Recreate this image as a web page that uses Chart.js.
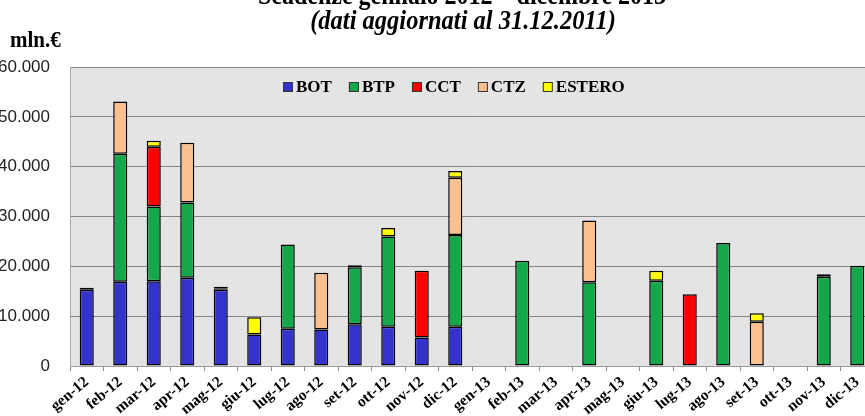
<!DOCTYPE html>
<html>
<head>
<meta charset="utf-8">
<script src="https://cdn.jsdelivr.net/npm/chart.js@4"></script>
<style>
  html, body { margin: 0; padding: 0; background: #fff; overflow: hidden; }
  #wrap { width: 865px; height: 416px; overflow: hidden; }
</style>
</head>
<body>
<div id="wrap"><canvas id="scadenzeChart" width="880" height="416"></canvas></div>
<script>
    // dati (mln. euro)
    const mesi = ['gen-12', 'feb-12', 'mar-12', 'apr-12', 'mag-12', 'giu-12', 'lug-12', 'ago-12', 'set-12', 'ott-12', 'nov-12', 'dic-12',
                  'gen-13', 'feb-13', 'mar-13', 'apr-13', 'mag-13', 'giu-13', 'lug-13', 'ago-13', 'set-13', 'ott-13', 'nov-13', 'dic-13'];
    const bot    = [15300, 16900, 17000, 17700, 15300, 6300, 7500, 7300, 8400, 7900, 5700, 7900, null, null, null, null, null, null, null, null, null, null, null, null];
    const btp    = [400, 25700, 15000, 15100, 200, null, 16900, null, 11400, 18100, null, 18400, null, 21100, null, 16800, null, 17100, null, 24700, null, null, 17900, 20100];
    const cct    = [null, null, 12000, null, null, null, null, null, null, null, 13400, null, null, null, null, null, null, null, 14400, null, null, null, null, null];
    const ctz    = [null, 10500, null, 12000, null, null, null, 11400, null, null, null, 11500, null, null, null, 12400, null, null, null, null, 8900, null, null, null];
    const estero = [null, null, 1200, null, 400, 3500, null, null, 400, 1700, null, 1350, null, null, null, null, null, 2000, null, null, 1700, null, 500, null];
    const yTicks = [0, 10000, 20000, 30000, 40000, 50000, 60000];

    const fmt = v => String(v).replace(/\B(?=(\d{3})+(?!\d))/g, '.');

    // testo un po' "allungato" in verticale come nell'originale
    function testo(c, t, x, y, font, sy) {
        c.save();
        c.font = font;
        c.translate(x, y);
        c.scale(1, sy);
        c.fillText(t, 0, 0);
        c.restore();
    }

    // sfondo area grafico, titolo e legenda
    const decor = {
        id: 'decor',
        beforeDraw(chart) {
            const a = chart.chartArea, c = chart.ctx;
            c.save();
            c.fillStyle = '#e4e4e4';
            c.fillRect(a.left, a.top, a.right - a.left, a.bottom - a.top);
            c.strokeStyle = '#cfcfcf';
            c.lineWidth = 1;
            c.beginPath();
            c.moveTo(a.left, a.top + 0.5);
            c.lineTo(a.right, a.top + 0.5);
            c.stroke();
            c.restore();
        },
        afterDraw(chart) {
            const c = chart.ctx;
            c.save();
            c.fillStyle = '#000';
            c.textAlign = 'center';
            c.textBaseline = 'alphabetic';
            testo(c, 'Scadenze gennaio 2012 \u2013 dicembre 2013', 462, 4, 'bold 24px "Liberation Serif"', 1.15);
            testo(c, '(dati aggiornati al 31.12.2011)', 463, 29, 'italic bold 24.5px "Liberation Serif"', 1.15);
            c.textAlign = 'left';
            testo(c, 'mln.\u20AC', 10, 47, 'bold 21px "Liberation Serif"', 1.1);

            // legenda
            c.font = 'bold 17px "Liberation Serif"';
            c.textBaseline = 'middle';
            let x = 283;
            const y = 87;
            chart.data.datasets.forEach(ds => {
                c.fillStyle = ds.backgroundColor;
                c.fillRect(x, y - 5, 10, 10);
                c.strokeStyle = '#333';
                c.lineWidth = 1;
                c.strokeRect(x + 0.5, y - 4.5, 9, 9);
                c.fillStyle = '#000';
                c.fillText(ds.label, x + 13, y + 1);
                x += 13 + c.measureText(ds.label).width + 17;
            });
            c.restore();
        }
    };

    const ctx = document.getElementById('scadenzeChart').getContext('2d');
    const serie = [
        ['BOT', bot, '#3333CC'],
        ['BTP', btp, '#14A84B'],
        ['CCT', cct, '#FF0000'],
        ['CTZ', ctz, '#FAC090'],
        ['ESTERO', estero, '#FFFF00']
    ];

    new Chart(ctx, {
        type: 'bar',
        data: {
            labels: mesi,
            datasets: serie.map(([nome, valori, colore]) => ({
                label: nome,
                data: valori,
                backgroundColor: colore,
                borderColor: '#000',
                borderWidth: 1.5,
                borderSkipped: false,
                categoryPercentage: 1,
                barPercentage: 0.42
            }))
        },
        options: {
            responsive: false,
            animation: false,
            layout: { padding: { top: 67, right: 6, left: 0, bottom: 0 } },
            plugins: {
                legend: { display: false },
                tooltip: { enabled: false }
            },
            scales: {
                x: {
                    stacked: true,
                    afterFit: s => { s.height = 50; },
                    grid: { offset: true, drawOnChartArea: false, drawTicks: true, tickLength: 5, color: '#888' },
                    border: { color: '#999' },
                    ticks: {
                        autoSkip: false,
                        minRotation: 40,
                        maxRotation: 40,
                        padding: 2,
                        color: '#000',
                        font: { family: '"Liberation Serif"', size: 15.5, weight: 'bold' }
                    }
                },
                y: {
                    stacked: true,
                    min: 0,
                    max: 60000,
                    afterFit: s => { s.width = 70; },
                    afterBuildTicks: s => { s.ticks = yTicks.map(v => ({ value: v })); },
                    grid: { color: '#858585', lineWidth: 1, drawTicks: false },
                    border: { color: '#aaa' },
                    ticks: {
                        padding: 20,
                        color: '#222',
                        font: { family: '"Liberation Sans"', size: 17 },
                        callback: v => fmt(v)
                    }
                }
            }
        },
        plugins: [decor]
    });
</script>
</body>
</html>
